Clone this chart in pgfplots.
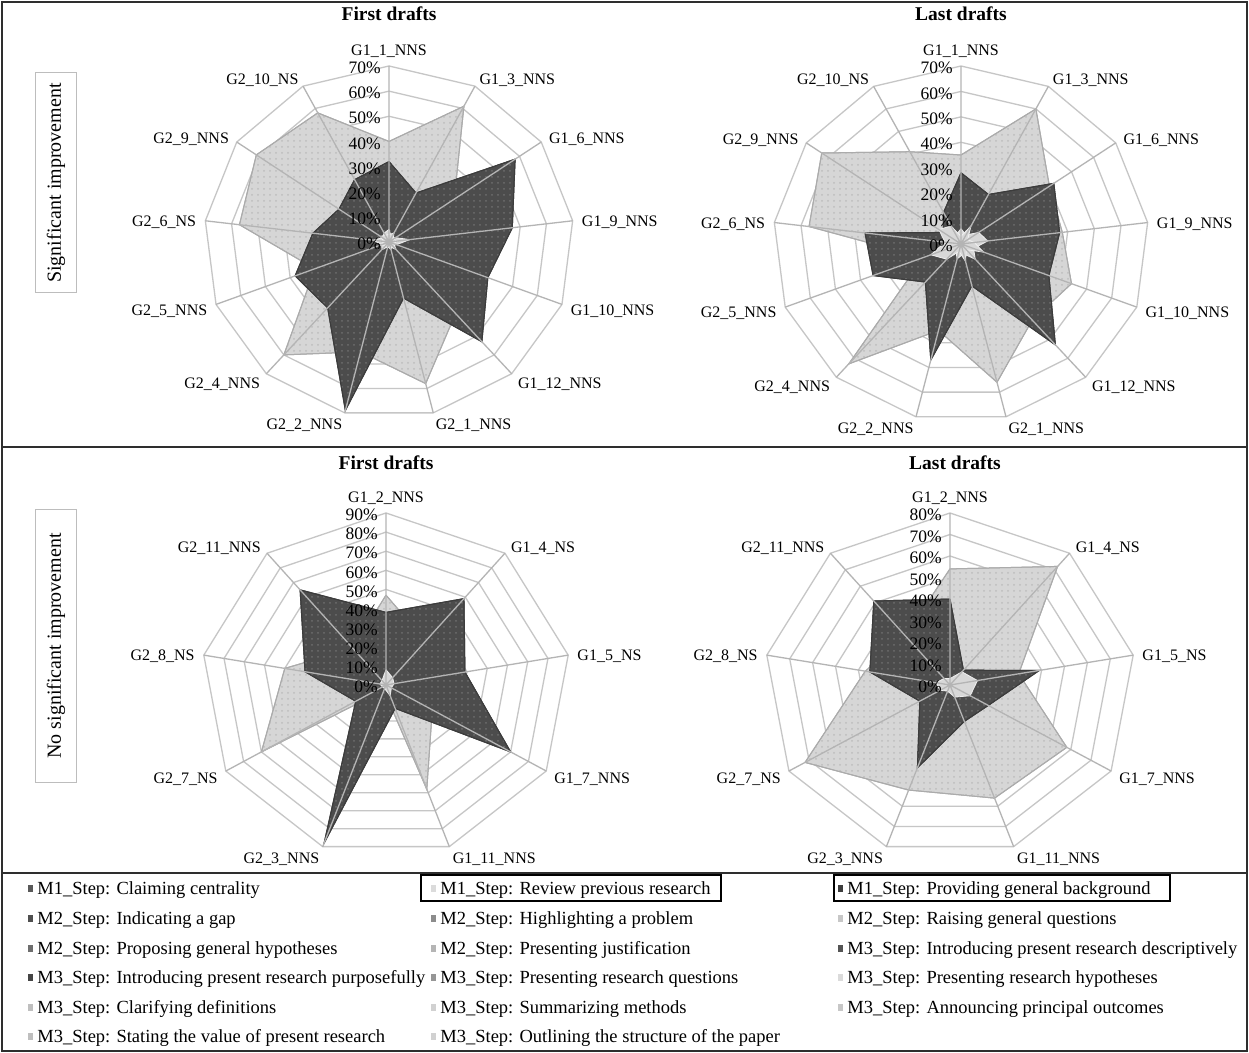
\documentclass[border=0pt]{standalone}
\usepackage{pgfplots}
\pgfplotsset{compat=1.18}
\usepackage{pgfplotstable}
\usetikzlibrary{patterns}
\usepackage{fontspec}
\setmainfont{Liberation Serif}

\definecolor{bkgfill}{HTML}{4C4C4C}
\definecolor{bkgdots}{HTML}{6E6E6E}
\definecolor{bkgline}{HTML}{3C3C3C}
\definecolor{revfill}{HTML}{D6D6D6}
\definecolor{revdots}{HTML}{BDBDBD}
\definecolor{revline}{HTML}{ABABAB}
\definecolor{minorfill}{HTML}{D8D8D8}
\definecolor{minorline}{HTML}{F0F0F0}
\definecolor{webc}{HTML}{C6C6C6}
\definecolor{spokec}{HTML}{B4B4B4}
\definecolor{framec}{HTML}{2E2E2E}
\definecolor{boxc}{HTML}{BDBDBD}

% k = spoke index, clockwise from the top; the first row is repeated to close the polygon
% rev = M1_Step: Review previous research, bkg = M1_Step: Providing general background
% Significant improvement, first drafts
\pgfplotstableread{
k   rev  bkg  cc  gap
0   40   32   5   3
1   61   22   2   4
2   30   58   3   2
3   22   47   8   3
4   30   40   3   2
5   38   53   2   4
6   58   23   3   2
7   45   69   2   1
8   60   35   4   2
9   30   38   3   3
10  57   29   6   2
11  61   23   3   4
12  58   28   4   3
13  40   32   5   3
}\sigfirst
% Significant improvement, last drafts
\pgfplotstableread{
k   rev  bkg  cc  gap
0   35   28   6   3
1   60   22   4   8
2   40   42   8   3
3   38   37   10  5
4   44   35   5   9
5   40   53   8   3
6   56   17   4   7
7   35   47   6   3
8   63   20   3   8
9   15   35   9   12
10  57   36   5   6
11  63   8    7   10
12  41   14   4   8
13  35   28   6   3
}\siglast
% No significant improvement, first drafts
\pgfplotstableread{
k   rev  bkg  cc
0   47   38   8
1   30   59   5
2   20   39   4
3   26   70   3
4   58   13   6
5   3    88   2
6   70   17   2
7   50   40   3
8   25   65   3
9   47   38   8
}\nosigfirst
% No significant improvement, last drafts
\pgfplotstableread{
k   rev  bkg  cc
0   54   40   3
1   72   9    8
2   30   39   12
3   58   19   10
4   56   18   6
5   52   41   3
6   72   15   5
7   37   35   6
8   30   51   4
9   54   40   3
}\nosiglast

\pgfplotsset{
  radar/.style={hide axis, clip=false, anchor=center,
    xmin=-#1, xmax=#1, ymin=-#1, ymax=#1},
  revarea/.style={fill=revfill, draw=revline, line width=0.5pt,
    postaction={pattern=dots, pattern color=revdots}},
  bkgarea/.style={fill=bkgfill, draw=bkgline, line width=0.5pt,
    postaction={pattern=dots, pattern color=bkgdots}},
  minorarea/.style={fill=minorfill, draw=minorline, line width=0.4pt},
}
\tikzset{
  ticklab/.style={font=\fontsize{8.75}{9}\selectfont, anchor=east, inner sep=0pt, xshift=-4pt, yshift=-1pt},
  catlab/.style={font=\fontsize{8}{9}\selectfont, inner sep=0pt},
  title/.style={font=\fontsize{9.75}{11}\selectfont\bfseries, inner sep=0pt},
  leglab/.style={font=\fontsize{9.25}{11}\selectfont, anchor=base west, inner sep=0pt},
}

% one radar series: style, column, number of spokes, table
\newcommand\radar[4]{%
  \addplot[#1] table[x expr={\thisrow{#2}*sin(\thisrow{k}*360/#3)},
                     y expr={\thisrow{#2}*cos(\thisrow{k}*360/#3)}] {#4};}
% polygonal rings: number of spokes, ring values
\newcommand\web[2]{%
  \pgfplotsinvokeforeach{#2}{%
    \draw[webc, line width=0.65pt] (axis cs:0,##1)
      \foreach \j in {1,...,#1}{ -- (axis cs:{##1*sin(\j*360/#1)},{##1*cos(\j*360/#1)})};}}
% spokes: number of spokes, outer value
\newcommand\spokes[2]{%
  \draw[spokec, line width=0.65pt] \foreach \j in {1,...,#1}{
    (axis cs:0,0) -- (axis cs:{#2*sin(\j*360/#1)},{#2*cos(\j*360/#1)})};}
% percentage labels along the top spoke
\newcommand\ticks[1]{%
  \pgfplotsinvokeforeach{#1}{\node[ticklab] at (axis cs:0,##1) {##1\%};}}
% category names: centre x, centre y, radius x, radius y, spokes, index/name list
\newcommand\catlabels[6]{%
  \foreach \idx/\nm in {#6}{%
    \pgfmathsetmacro\rs{sin(\idx*360/#5)}%
    \pgfmathsetmacro\rc{cos(\idx*360/#5)}%
    \ifnum\idx=0
      \node[catlab, anchor=south] at (#1,#2-#4-8) {\nm};
    \else
      \ifdim\rs pt>0pt \def\anc{west}\else\def\anc{east}\fi
      \node[catlab, anchor=\anc] at ({#1+(#3+9)*\rs},{#2-#4*\rc+3-10*\rc}) {\nm};
    \fi}}
% legend entry: x, row centre y, swatch colour, text
\newcommand\legitem[4]{%
  \fill[#3] (#1,#2-3.5) rectangle ++(5,7);
  \node[leglab] at (#1+9,#2+6) {#4};}

\begin{document}
\begin{tikzpicture}[x=0.5pt, y=-0.5pt]
\useasboundingbox (0,0) rectangle (1249,1053);
\fill[white] (0,0) rectangle (1249,1053);
\coordinate (cTL) at (389,242);
\coordinate (cTR) at (961,244);
\coordinate (cBL) at (386,685);
\coordinate (cBR) at (950,685);

% ---- Significant improvement, first drafts
\begin{axis}[radar=70, at={(cTL)}, x=1.3214pt, y=1.2571pt]
  \web{13}{10,20,30,40,50,60,70}
  \radar{revarea}{rev}{13}{\sigfirst}
  \radar{bkgarea}{bkg}{13}{\sigfirst}
  \radar{minorarea}{cc}{13}{\sigfirst}
  \radar{minorarea}{gap}{13}{\sigfirst}
  \spokes{13}{70}
  \ticks{0,10,20,30,40,50,60,70}
\end{axis}

% ---- Significant improvement, last drafts
\begin{axis}[radar=70, at={(cTR)}, x=1.343pt, y=1.2714pt]
  \web{13}{10,20,30,40,50,60,70}
  \radar{revarea}{rev}{13}{\siglast}
  \radar{bkgarea}{bkg}{13}{\siglast}
  \radar{minorarea}{cc}{13}{\siglast}
  \radar{minorarea}{gap}{13}{\siglast}
  \spokes{13}{70}
  \ticks{0,10,20,30,40,50,60,70}
\end{axis}

% ---- No significant improvement, first drafts
\begin{axis}[radar=90, at={(cBL)}, x=1.0278pt, y=0.9556pt]
  \web{9}{10,20,30,40,50,60,70,80,90}
  \radar{revarea}{rev}{9}{\nosigfirst}
  \radar{bkgarea}{bkg}{9}{\nosigfirst}
  \radar{minorarea}{cc}{9}{\nosigfirst}
  \spokes{9}{90}
  \ticks{0,10,20,30,40,50,60,70,80,90}
\end{axis}

% ---- No significant improvement, last drafts
\begin{axis}[radar=80, at={(cBR)}, x=1.1625pt, y=1.075pt]
  \web{9}{10,20,30,40,50,60,70,80}
  \radar{revarea}{rev}{9}{\nosiglast}
  \radar{bkgarea}{bkg}{9}{\nosiglast}
  \radar{minorarea}{cc}{9}{\nosiglast}
  \spokes{9}{80}
  \ticks{0,10,20,30,40,50,60,70,80}
\end{axis}

% category names
\catlabels{389}{242}{185}{176}{13}{0/G1\_1\_NNS, 1/G1\_3\_NNS, 2/G1\_6\_NNS, 3/G1\_9\_NNS, 4/G1\_10\_NNS, 5/G1\_12\_NNS, 6/G2\_1\_NNS, 7/G2\_2\_NNS, 8/G2\_4\_NNS, 9/G2\_5\_NNS, 10/G2\_6\_NS, 11/G2\_9\_NNS, 12/G2\_10\_NS}
\catlabels{961}{244}{188}{178}{13}{0/G1\_1\_NNS, 1/G1\_3\_NNS, 2/G1\_6\_NNS, 3/G1\_9\_NNS, 4/G1\_10\_NNS, 5/G1\_12\_NNS, 6/G2\_1\_NNS, 7/G2\_2\_NNS, 8/G2\_4\_NNS, 9/G2\_5\_NNS, 10/G2\_6\_NS, 11/G2\_9\_NNS, 12/G2\_10\_NS}
\catlabels{386}{685}{185}{172}{9}{0/G1\_2\_NNS, 1/G1\_4\_NS, 2/G1\_5\_NS, 3/G1\_7\_NNS, 4/G1\_11\_NNS, 5/G2\_3\_NNS, 6/G2\_7\_NS, 7/G2\_8\_NS, 8/G2\_11\_NNS}
\catlabels{950}{685}{186}{172}{9}{0/G1\_2\_NNS, 1/G1\_4\_NS, 2/G1\_5\_NS, 3/G1\_7\_NNS, 4/G1\_11\_NNS, 5/G2\_3\_NNS, 6/G2\_7\_NS, 7/G2\_8\_NS, 8/G2\_11\_NNS}

% panel titles
\node[title] at (389,14) {First drafts};
\node[title] at (961,14) {Last drafts};
\node[title] at (386,463) {First drafts};
\node[title] at (955,463) {Last drafts};

% row captions
\node[rotate=90, draw=boxc, line width=0.5pt, fill=white, minimum width=110pt, minimum height=20.5pt,
      inner sep=0pt, font=\fontsize{10}{12}\selectfont] at (56,183) {Significant improvement};
\node[rotate=90, draw=boxc, line width=0.5pt, fill=white, minimum width=136.5pt, minimum height=20.5pt,
      inner sep=0pt, font=\fontsize{10}{12}\selectfont] at (56,646) {No significant improvement};

% frame and separators
\draw[framec, line width=1pt] (2,2) rectangle (1247,1051);
\draw[framec, line width=1pt] (2,447) -- (1247,447);
\draw[framec, line width=1pt] (2,873) -- (1247,873);

% legend
\legitem{28}{888}{black!65}{M1\_Step: Claiming centrality}
\legitem{431}{888}{black!14}{M1\_Step: Review previous research}
\legitem{838}{888}{black!76}{M1\_Step: Providing general background}
\legitem{28}{918}{black!69}{M2\_Step: Indicating a gap}
\legitem{431}{918}{black!45}{M2\_Step: Highlighting a problem}
\legitem{838}{918}{black!22}{M2\_Step: Raising general questions}
\legitem{28}{948}{black!57}{M2\_Step: Proposing general hypotheses}
\legitem{431}{948}{black!29}{M2\_Step: Presenting justification}
\legitem{838}{948}{black!67}{M3\_Step: Introducing present research descriptively}
\legitem{28}{977}{black!73}{M3\_Step: Introducing present research purposefully}
\legitem{431}{977}{black!41}{M3\_Step: Presenting research questions}
\legitem{838}{977}{black!14}{M3\_Step: Presenting research hypotheses}
\legitem{28}{1007}{black!25}{M3\_Step: Clarifying definitions}
\legitem{431}{1007}{black!18}{M3\_Step: Summarizing methods}
\legitem{838}{1007}{black!22}{M3\_Step: Announcing principal outcomes}
\legitem{28}{1036}{black!25}{M3\_Step: Stating the value of present research}
\legitem{431}{1036}{black!18}{M3\_Step: Outlining the structure of the paper}
\draw[black, line width=0.6pt] (421,875) rectangle (721,901);
\draw[black, line width=0.6pt] (834,875) rectangle (1170,901);
\end{tikzpicture}
\end{document}
